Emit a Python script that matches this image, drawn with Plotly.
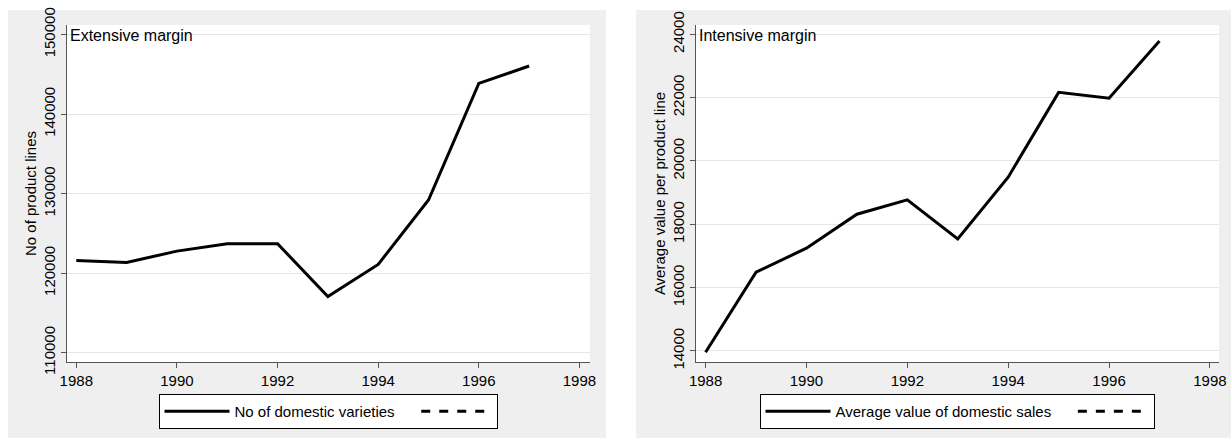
import plotly.graph_objects as go

# %% DATA
years = [1988, 1989, 1990, 1991, 1992, 1993, 1994, 1995, 1996, 1997]
n_varieties = [121600, 121350, 122770, 123700, 123700, 117070, 121100, 129200, 143860, 146040]
avg_value = [13960, 16490, 17245, 18319, 18771, 17539, 19488, 22167, 21980, 23790]

x_ticks = [1988, 1990, 1992, 1994, 1996, 1998]
y_ticks_left = [110000, 120000, 130000, 140000, 150000]
y_ticks_right = [14000, 16000, 18000, 20000, 22000, 24000]

# %% SETTINGS
W, H = 1231, 439
font_name = "Liberation Sans, Arial, sans-serif"
axis_col = "#555555"
grid_col = "#e6e6e6"
panel_col = "#efefef"
pad = "\u00a0" * 4

def px_x(v):
    return v / W

def px_y(v):
    return (H - v) / H

fig = go.Figure()

# left panel
fig.add_trace(go.Scatter(x=years, y=n_varieties, mode="lines", name="No of domestic varieties" + pad,
                         line=dict(color="black", width=3), xaxis="x", yaxis="y", legend="legend"))
fig.add_trace(go.Scatter(x=[None], y=[None], mode="lines", name="",
                         line=dict(color="black", width=3, dash="dash"), xaxis="x", yaxis="y", legend="legend"))
# right panel
fig.add_trace(go.Scatter(x=years, y=avg_value, mode="lines", name="Average value of domestic sales" + pad,
                         line=dict(color="black", width=3), xaxis="x2", yaxis="y2", legend="legend2"))
fig.add_trace(go.Scatter(x=[None], y=[None], mode="lines", name="",
                         line=dict(color="black", width=3, dash="dash"), xaxis="x2", yaxis="y2", legend="legend2"))

xa = dict(tickvals=x_ticks, ticks="outside", ticklen=5, tickcolor=axis_col, showline=True,
          linecolor=axis_col, linewidth=1, showgrid=False, zeroline=False, automargin=False,
          tickfont=dict(size=15, color="black"))
ya = dict(ticks="outside", ticklen=5, tickcolor=axis_col, showline=True, linecolor=axis_col,
          linewidth=1, showgrid=True, gridcolor=grid_col, gridwidth=1, zeroline=False, automargin=False,
          tickangle=-90, tickformat="d", tickfont=dict(size=15, color="black"),
          title_font=dict(size=15, color="black"), title_standoff=0)

ydom = [px_y(362), px_y(25)]

leg = dict(orientation="h", xanchor="center", y=px_y(394), yanchor="top",
           bgcolor="white", bordercolor="black", borderwidth=1, font=dict(size=15),
           itemwidth=65)

fig.update_layout(
    width=W, height=H,
    margin=dict(l=0, r=0, t=0, b=0, autoexpand=False),
    paper_bgcolor="white", plot_bgcolor="white",
    font=dict(family=font_name, color="black"),
    xaxis=dict(xa, domain=[px_x(67), px_x(590)], range=[1987.815, 1998.21], anchor="y"),
    yaxis=dict(ya, domain=ydom, range=[108830, 151200], tickvals=y_ticks_left,
               title_text="No of product lines", anchor="x"),
    xaxis2=dict(xa, domain=[px_x(696), px_x(1219)], range=[1987.81, 1998.18], anchor="y2"),
    yaxis2=dict(ya, domain=ydom, range=[13652, 24294], tickvals=y_ticks_right,
                title_text="Average value per product line", anchor="x2"),
    legend=dict(leg, x=px_x(328)),
    legend2=dict(leg, x=px_x(957)),
    shapes=[
        # grey panel backgrounds
        dict(type="rect", xref="paper", yref="paper", x0=px_x(8), x1=px_x(606), y0=px_y(438), y1=px_y(10),
             fillcolor=panel_col, line_width=0, layer="below"),
        dict(type="rect", xref="paper", yref="paper", x0=px_x(636), x1=1, y0=px_y(438), y1=px_y(10),
             fillcolor=panel_col, line_width=0, layer="below"),
        # white plot regions
        dict(type="rect", xref="x domain", yref="y domain", x0=0, x1=1, y0=0, y1=1,
             fillcolor="white", line_width=0, layer="below"),
        dict(type="rect", xref="x2 domain", yref="y2 domain", x0=0, x1=1, y0=0, y1=1,
             fillcolor="white", line_width=0, layer="below"),
    ],
    annotations=[
        dict(text="Extensive margin", xref="x domain", yref="y domain", x=0, y=1, xanchor="left",
             yanchor="top", showarrow=False, font=dict(size=16), xshift=1),
        dict(text="Intensive margin", xref="x2 domain", yref="y2 domain", x=0, y=1, xanchor="left",
             yanchor="top", showarrow=False, font=dict(size=16), xshift=1),
    ],
)

fig.write_html("out.html", config={"displayModeBar": False},
               post_script="document.body.style.margin='0';")
